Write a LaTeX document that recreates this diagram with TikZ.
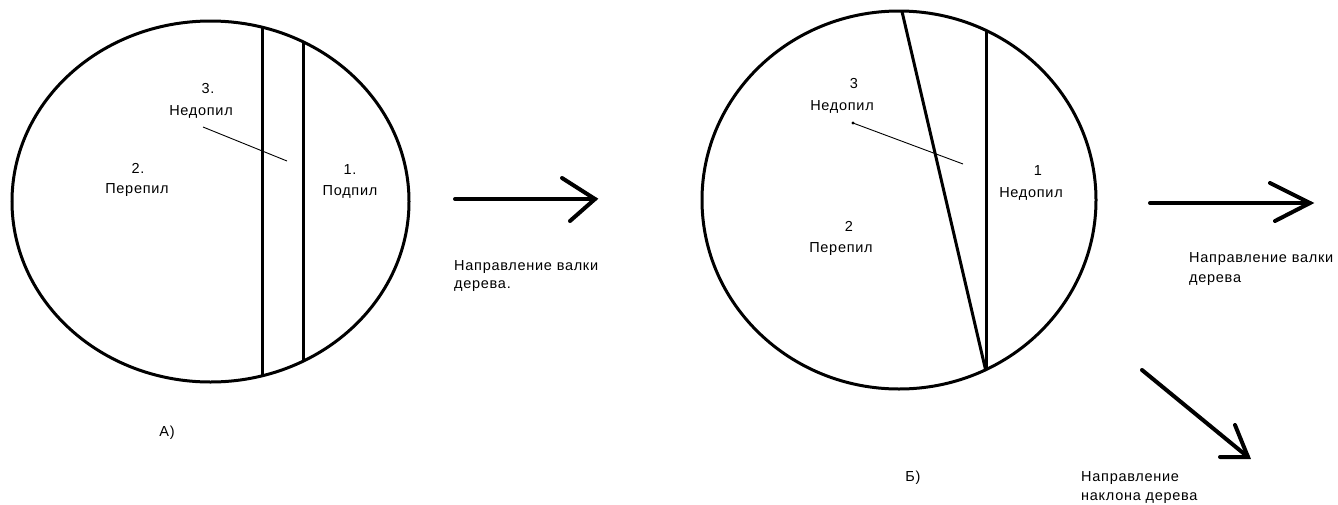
\documentclass[tikz,border=0pt]{standalone}
\usepackage{fontspec}
\setmainfont{Liberation Sans}
\newfontfamily\lblfont[LetterSpace=5]{Liberation Sans}
\begin{document}
\begin{tikzpicture}[x=1pt,y=-1pt,
  trunk/.style={line width=3pt},
  cut/.style={line width=3pt},
  thin/.style={line width=0.9pt},
  bigarrow/.style={line width=4pt,line cap=round},
  lbl/.style={font=\lblfont\fontsize{14.5}{16}\selectfont,inner sep=0pt,anchor=base},
  captxt/.style={font=\lblfont\fontsize{14.5}{16}\selectfont,inner sep=0pt,anchor=base west}]
\useasboundingbox (0,0) rectangle (1338,504);
\fill[white] (0,0) rectangle (1338,504);
% ---- left trunk ----
\coordinate (cA) at (210.5,201.5);
\draw[trunk] (cA) ellipse [x radius=198.5, y radius=180.5];
\coordinate (a1t) at (262,27.2); \coordinate (a1b) at (262,375.8);
\coordinate (a2t) at (303,41.8); \coordinate (a2b) at (303,361.2);
\draw[cut] (a1t) -- (a1b);
\draw[cut] (a2t) -- (a2b);
\coordinate (aps) at (203,127); \coordinate (ape) at (287,161);
\draw[thin] (aps) -- (ape);
\node[lbl] (a3n) at (208,93) {3.};
\node[lbl] (a3) at (201,115) {Недопил};
\node[lbl] (a2n) at (138,173) {2.};
\node[lbl] (a2) at (137,193) {Перепил};
\node[lbl] (a1n) at (350,174) {1.};
\node[lbl] (a1) at (350,195) {Подпил};
\node[lbl] (alab) at (167,436) {А)};
% arrow A
\coordinate (r1s) at (455,199); \coordinate (r1t) at (595,199);
\coordinate (r1u) at (562,178); \coordinate (r1d) at (570,221);
\draw[bigarrow] (r1s) -- (r1t);
\draw[bigarrow] (r1u) -- (r1t) -- (r1d);
\node[captxt] (r1a) at (454,270) {Направление валки};
\node[captxt] (r1b) at (454,288) {дерева.};
% ---- right trunk ----
\coordinate (cB) at (899,200);
\draw[trunk] (cB) ellipse [x radius=197, y radius=189];
\coordinate (b1t) at (902,11.5); \coordinate (b1b) at (985.5,369.5);
\coordinate (b2t) at (986,30.4); \coordinate (b2b) at (986,369.6);
\draw[cut] (b1t) -- (b1b);
\draw[cut] (b2t) -- (b2b);
\coordinate (bps) at (853,123); \coordinate (bpe) at (963,164);
\fill (bps) circle (1.6);
\draw[thin] (bps) -- (bpe);
\node[lbl] (b3n) at (854,88) {3};
\node[lbl] (b3) at (842,110) {Недопил};
\node[lbl] (b2n) at (849,231) {2};
\node[lbl] (b2) at (841,252) {Перепил};
\node[lbl] (b1n) at (1038,175) {1};
\node[lbl] (b1) at (1031,197) {Недопил};
\node[lbl] (blab) at (913,481) {Б)};
% arrow B valka
\coordinate (r2s) at (1150,203); \coordinate (r2t) at (1310,203);
\coordinate (r2u) at (1270,183); \coordinate (r2d) at (1275,221);
\draw[bigarrow] (r2s) -- (r2t);
\draw[bigarrow] (r2u) -- (r2t) -- (r2d);
\node[captxt] (r2a) at (1189,262) {Направление валки};
\node[captxt] (r2b) at (1189,282) {дерева};
% arrow B naklon
\coordinate (r3s) at (1142,370); \coordinate (r3t) at (1248,457);
\coordinate (r3u) at (1235,425); \coordinate (r3d) at (1220,457);
\draw[bigarrow] (r3s) -- (r3t);
\draw[bigarrow] (r3u) -- (r3t) -- (r3d);
\node[captxt] (r3a) at (1081,481) {Направление};
\node[captxt] (r3b) at (1081,500) {наклона дерева};
\end{tikzpicture}
\end{document}
